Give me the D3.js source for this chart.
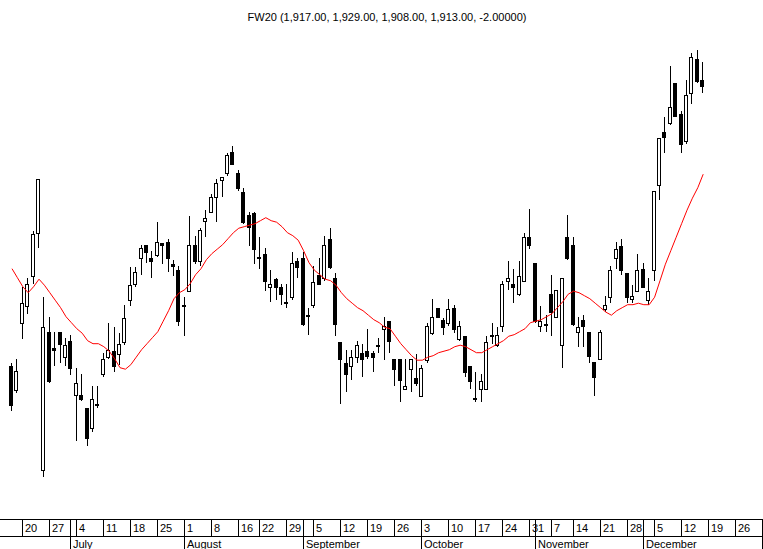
<!DOCTYPE html>
<html>
<head>
<meta charset="utf-8">
<script src="https://cdn.jsdelivr.net/npm/d3@7"></script>
<style>
  html, body { margin: 0; padding: 0; background: #fff; }
  svg { display: block; font-family: "Liberation Sans", Arial, sans-serif; }
</style>
</head>
<body>
<svg id="chart" width="763" height="549"></svg>
<script>
// FW20 daily candles, 16 Jun 2016 .. 16 Dec 2016
const firstDay = '2016-06-16';
const calendarStart = '2016-06-13';
const calendarEnd = '2017-01-03';
const holidays = ['2016-08-15', '2016-11-01', '2016-11-11'];

const open  = [1726,1710,1755,1766,1786,1815,1657,1749,1738,1749,1732,1743,
  1707,1707,1698,1685,1701,1721,1732,1736,1734,1742,
  1770,1781,1798,1807,1798,1800,1808,1809,1794,1790,
  1767,1776,1807,1796,1823,1829,1839,1850,1855,1869,
  1855,1842,1827,1828,
  1799,1801,1779,1784,1779,
  1769,1772,1796,1798,1760,
  1767,1787,1785,1811,1785,
  1742,1728,1726,1732,1735,
  1736,1735,1740,1751,1756,
  1731,1731,1711,1724,1718,
  1706,1730,1748,1765,1757,
  1755,1765,1744,1746,1726,
  1705,1711,1711,1747,1740,
  1753,1783,1781,1774,1783,
  1812,1795,1753,1754,
  1774,1759,1740,1812,
  1807,1749,1757,1749,1729,
  1731,1764,1772,1798,1806,
  1788,1771,1776,1791,1770,
  1790,1847,1882,1888,1915,
  1894,1876,1908,1931,1917];
const high  = [1728,1731,1779,1785,1816,1851,1772,1759,1749,1749,1745,1747,
  1725,1721,1698,1713,1713,1735,1755,1752,1748,1767,
  1792,1792,1807,1807,1803,1822,1808,1811,1797,1793,
  1772,1826,1813,1818,1830,1841,1851,1852,1868,1873,
  1857,1845,1829,1829,
  1812,1805,1790,1785,1781,
  1781,1802,1798,1802,1765,
  1793,1798,1813,1818,1788,
  1742,1737,1737,1743,1741,
  1751,1736,1745,1759,1756,
  1731,1731,1731,1731,1734,
  1727,1755,1771,1765,1758,
  1771,1767,1756,1746,1726,
  1722,1721,1746,1755,1752,
  1783,1796,1791,1796,1815,
  1831,1795,1766,1760,
  1787,1777,1785,1827,
  1812,1759,1760,1749,1729,
  1750,1773,1793,1809,1811,
  1788,1780,1801,1795,1785,
  1843,1878,1892,1926,1915,
  1896,1917,1935,1937,1929];
const low   = [1696,1708,1744,1761,1781,1805,1652,1715,1726,1728,1726,1720,
  1676,1703,1673,1682,1698,1719,1731,1722,1727,1740,
  1766,1779,1787,1795,1785,1799,1794,1789,1786,1753,
  1746,1776,1794,1793,1812,1828,1822,1839,1853,1860,
  1843,1821,1806,1794,
  1791,1776,1769,1770,1767,
  1765,1770,1785,1753,1747,
  1765,1781,1783,1791,1746,
  1701,1709,1717,1728,1719,
  1731,1722,1735,1730,1735,
  1713,1702,1711,1709,1713,
  1706,1728,1747,1759,1747,
  1753,1748,1743,1719,1711,
  1702,1702,1711,1741,1739,
  1749,1777,1768,1773,1783,
  1804,1755,1749,1749,
  1746,1759,1725,1797,
  1753,1739,1739,1728,1706,
  1730,1762,1768,1791,1787,
  1768,1768,1776,1778,1767,
  1783,1837,1868,1887,1893,
  1868,1874,1901,1915,1908];
const close = [1700,1723,1768,1781,1814,1851,1752,1716,1737,1741,1740,1725,
  1715,1704,1678,1704,1701,1731,1737,1726,1741,1758,
  1780,1789,1805,1802,1796,1809,1807,1798,1793,1756,
  1767,1807,1796,1817,1825,1839,1848,1852,1867,1861,
  1845,1822,1819,1804,
  1799,1783,1781,1779,1774,
  1768,1795,1792,1754,1760,
  1782,1781,1807,1792,1754,
  1731,1721,1732,1740,1731,
  1733,1732,1740,1753,1743,
  1724,1717,1713,1731,1715,
  1725,1753,1759,1759,1752,
  1764,1751,1753,1722,1716,
  1705,1716,1742,1746,1747,
  1781,1785,1779,1786,1812,
  1807,1756,1756,1754,
  1762,1777,1785,1798,
  1754,1752,1753,1733,1719,
  1749,1767,1790,1804,1790,
  1772,1773,1790,1779,1776,
  1843,1878,1879,1899,1893,
  1874,1907,1932,1916,1913];
// moving average line as drawn on the chart
const movingAvg = [1791,1785,1779,1775,1779,1784,1780,1775,1770,1765,1759,1755,
  1751,1748,1743,1741,1741,1739,1736,1731,1725,1724,
  1727,1732,1737,1741,1745,1749,1756,1763,1771,1775,
  1777,1781,1787,1791,1797,1801,1804,1807,1811,1815,
  1818,1819,1820,1821,
  1823,1825,1823,1822,1819,
  1815,1813,1810,1803,1795,
  1790,1787,1784,1783,1780,
  1775,1771,1768,1765,1763,
  1760,1757,1755,1752,1751,
  1746,1741,1737,1733,1730,
  1730,1732,1733,1735,1736,
  1737,1739,1740,1739,1737,
  1735,1735,1737,1739,1741,
  1743,1746,1747,1749,1751,
  1755,1756,1757,1759,
  1761,1765,1769,1774,
  1776,1775,1773,1771,1768,
  1765,1762,1760,1763,1765,
  1767,1767,1768,1767,1767,
  1772,1783,1794,1803,1812,
  1821,1830,1838,1845,1854];
const title = 'FW20 (1,917.00, 1,929.00, 1,908.00, 1,913.00, -2.00000)';

// ---- calendar (trading days; future part are plain weekdays)
const fmt = d3.timeFormat('%Y-%m-%d');
const parse = d3.timeParse('%Y-%m-%d');
const days = d3.timeDay.range(parse(calendarStart), parse(calendarEnd))
  .filter(d => d.getDay() !== 0 && d.getDay() !== 6 && !holidays.includes(fmt(d)));
const offset = days.findIndex(d => fmt(d) === firstDay);
const cal = days.map((d, i) => ({ date: d, idx: i - offset }));

const W = 763, H = 549;
const svg = d3.select('#chart');

const x = d3.scaleLinear().domain([0, 128]).range([12, 703.2]);
const y = d3.scaleLinear().domain([1620, 1950]).range([525.2, 30.2]);
const px = i => Math.round(x(i));
const py = v => Math.round(y(v));

svg.append('text').attr('x', 387).attr('y', 21).attr('text-anchor', 'middle')
  .attr('font-size', '11px').attr('fill', '#000').text(title);

// ---- candles
const candles = svg.append('g');
open.forEach((o, i) => {
  const c = close[i];
  const cx = px(i);
  candles.append('line')
    .attr('x1', cx - 0.5).attr('x2', cx - 0.5)
    .attr('y1', py(high[i])).attr('y2', py(low[i]))
    .attr('stroke', '#000').attr('stroke-width', 1);
  const top = py(Math.max(o, c)), bot = py(Math.min(o, c));
  candles.append('rect')
    .attr('x', cx - 2.5).attr('width', 3)
    .attr('y', top + 0.5).attr('height', Math.max(bot - top, 1))
    .attr('fill', c > o ? '#fff' : '#000')
    .attr('stroke', '#000').attr('stroke-width', 1);
});

svg.append('path').datum(movingAvg)
  .attr('fill', 'none').attr('stroke', '#ff0000').attr('stroke-width', 1)
  .attr('d', d3.line().x((d, i) => x(i)).y(d => y(d)));

// ---- two-row date axis
const axis = svg.append('g').attr('stroke', '#000').attr('stroke-width', 1);
const yTop = 519.5, yMid = 536.5, yBot = H;
axis.append('line').attr('x1', 0).attr('x2', W).attr('y1', yTop).attr('y2', yTop);
axis.append('line').attr('x1', 0).attr('x2', W).attr('y1', yMid).attr('y2', yMid);

const weekStarts = cal.filter((d, k) => k === 0 || d3.timeMonday.floor(d.date) > d3.timeMonday.floor(cal[k - 1].date));
const monthStarts = cal.filter((d, k) => k > 0 && d.date.getMonth() !== cal[k - 1].date.getMonth());
const onScreen = tx => tx > 0 && tx < W - 8;

weekStarts.forEach(d => {
  const tx = px(d.idx) - 0.5;
  axis.append('line').attr('x1', tx).attr('x2', tx).attr('y1', yTop).attr('y2', yMid);
  if (onScreen(tx)) {
    svg.append('text').attr('x', tx + 2.5).attr('y', 532).attr('font-size', '11px')
      .attr('fill', '#000').text(d.date.getDate());
  }
});
monthStarts.forEach(d => {
  const tx = px(d.idx) - 0.5;
  axis.append('line').attr('x1', tx).attr('x2', tx).attr('y1', yTop).attr('y2', yBot);
  if (onScreen(tx)) {
    svg.append('text').attr('x', tx + 2.5).attr('y', 548).attr('font-size', '11px')
      .attr('fill', '#000').text(d3.timeFormat('%B')(d.date));
  }
});
</script>
</body>
</html>
